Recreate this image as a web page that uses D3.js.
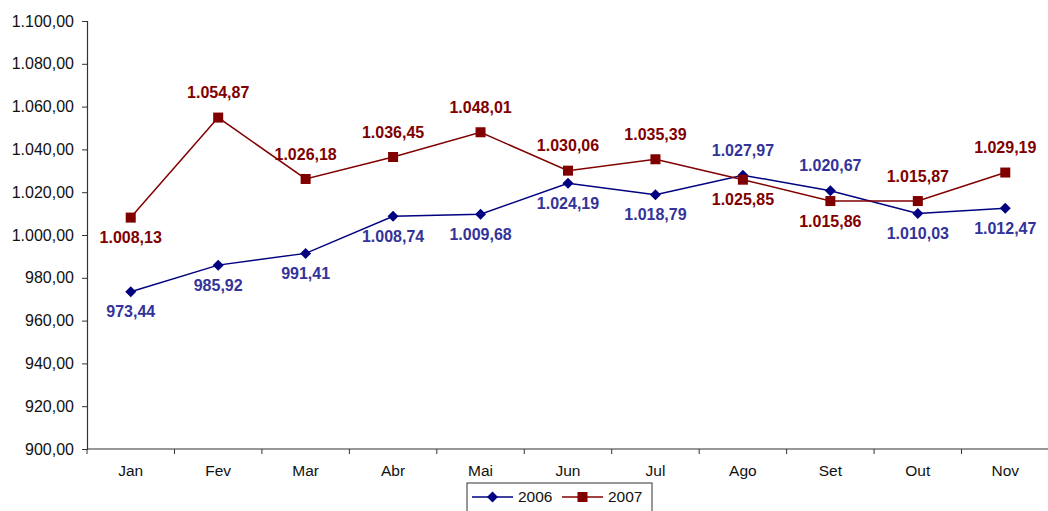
<!DOCTYPE html>
<html>
<head>
<meta charset="utf-8">
<script src="https://cdn.jsdelivr.net/npm/d3@7"></script>
<style>
  html, body { margin: 0; padding: 0; background: #fff; }
  svg { display: block; font-family: Arial, "Liberation Sans", sans-serif; }
</style>
</head>
<body>
<svg id="chart" width="1048" height="511"></svg>
<script>
// Monthly values, 2006 vs 2007
const months = ["Jan", "Fev", "Mar", "Abr", "Mai", "Jun", "Jul", "Ago", "Set", "Out", "Nov"];
const values2006 = [973.44, 985.92, 991.41, 1008.74, 1009.68, 1024.19, 1018.79, 1027.97, 1020.67, 1010.03, 1012.47];
const values2007 = [1008.13, 1054.87, 1026.18, 1036.45, 1048.01, 1030.06, 1035.39, 1025.85, 1015.86, 1015.87, 1029.19];
// Which side of the point each value label sits on
const side2006 = ["below", "below", "below", "below", "below", "below", "below", "above", "above", "below", "below"];
const side2007 = ["below", "above", "above", "above", "above", "above", "above", "below", "below", "above", "above"];
const yTicks = [900, 920, 940, 960, 980, 1000, 1020, 1040, 1060, 1080, 1100];

const fmt = d3.formatLocale({ decimal: ",", thousands: ".", grouping: [3], currency: ["", ""] }).format(",.2f");
const FONT = "Arial, 'Liberation Sans', sans-serif";

const svg = d3.select("#chart");
const margin = { left: 87 };
const W = 1048;
const x = d3.scaleBand().domain(months).range([margin.left, 1049]).padding(0);
const y = d3.scaleLinear().domain([900, 1100]).range([449, 21]);

// Y axis
const yAxis = svg.append("g")
  .attr("transform", `translate(${margin.left},0)`)
  .call(d3.axisLeft(y).tickValues(yTicks).tickFormat(fmt).tickSize(5).tickPadding(8));
yAxis.attr("font-family", FONT);
yAxis.select(".domain").attr("stroke", "#333").attr("stroke-width", 1.2);
yAxis.selectAll(".tick line").attr("stroke", "#333");
yAxis.selectAll(".tick text").attr("font-size", 16).attr("fill", "#111");

// X axis: ticks at category boundaries
const xAxis = svg.append("g").attr("transform", `translate(0,${y(900)})`);
xAxis.append("line")
  .attr("x1", margin.left).attr("x2", W)
  .attr("stroke", "#333").attr("stroke-width", 1.2);
const bounds = months.map(m => x(m)).concat([x(months[months.length - 1]) + x.bandwidth()]);
xAxis.selectAll(".bt").data(bounds).join("line")
  .attr("x1", d => d).attr("x2", d => d).attr("y1", 0).attr("y2", 5)
  .attr("stroke", "#333");
xAxis.selectAll(".lbl").data(months).join("text")
  .attr("x", d => x(d) + x.bandwidth() / 2).attr("y", 22).attr("dy", "0.35em")
  .attr("text-anchor", "middle").attr("font-size", 15.5).attr("fill", "#111")
  .text(d => d);

const cx = m => x(m) + x.bandwidth() / 2;
const line = d3.line().x((d, i) => cx(months[i])).y(d => y(d));

const series = [
  { name: "2006", values: values2006, side: side2006, stroke: "#000080", labelColor: "#333399", marker: "diamond" },
  { name: "2007", values: values2007, side: side2007, stroke: "#800000", labelColor: "#800000", marker: "square" }
];

function drawMarker(g, type, color) {
  if (type === "diamond") {
    g.append("path").attr("d", "M0,-5.5L5.5,0L0,5.5L-5.5,0Z").attr("fill", color);
  } else {
    g.append("rect").attr("x", -5).attr("y", -5).attr("width", 10).attr("height", 10).attr("fill", color);
  }
}

series.forEach(s => {
  svg.append("path").datum(s.values)
    .attr("d", line).attr("fill", "none")
    .attr("stroke", s.stroke).attr("stroke-width", 1.5);
  s.values.forEach((v, i) => {
    const g = svg.append("g").attr("transform", `translate(${cx(months[i])},${y(v)})`);
    drawMarker(g, s.marker, s.stroke);
  });
});

// Value labels
series.forEach(s => {
  svg.selectAll(null).data(s.values).join("text")
    .attr("x", (d, i) => cx(months[i]))
    .attr("y", (d, i) => y(d) + (s.side[i] === "above" ? -25 : 20))
    .attr("dy", "0.35em")
    .attr("text-anchor", "middle")
    .attr("font-size", 16).attr("font-weight", "bold")
    .attr("fill", s.labelColor)
    .text(d => fmt(d));
});

// Legend
const lg = svg.append("g").attr("transform", "translate(467,483)");
lg.append("rect").attr("x", 0).attr("y", 0).attr("width", 185).attr("height", 34)
  .attr("fill", "#fff").attr("stroke", "#333").attr("stroke-width", 1);
series.forEach((s, i) => {
  const ox = 5 + i * 90;
  const item = lg.append("g").attr("transform", `translate(${ox},14)`);
  item.append("line").attr("x1", 0).attr("x2", 41).attr("stroke", s.stroke).attr("stroke-width", 1.5);
  const mk = item.append("g").attr("transform", "translate(20.5,0)");
  drawMarker(mk, s.marker, s.stroke);
  item.append("text").attr("x", 46).attr("y", 0).attr("dy", "0.35em")
    .attr("font-size", 15.5).attr("fill", "#111").text(s.name);
});
</script>
</body>
</html>
